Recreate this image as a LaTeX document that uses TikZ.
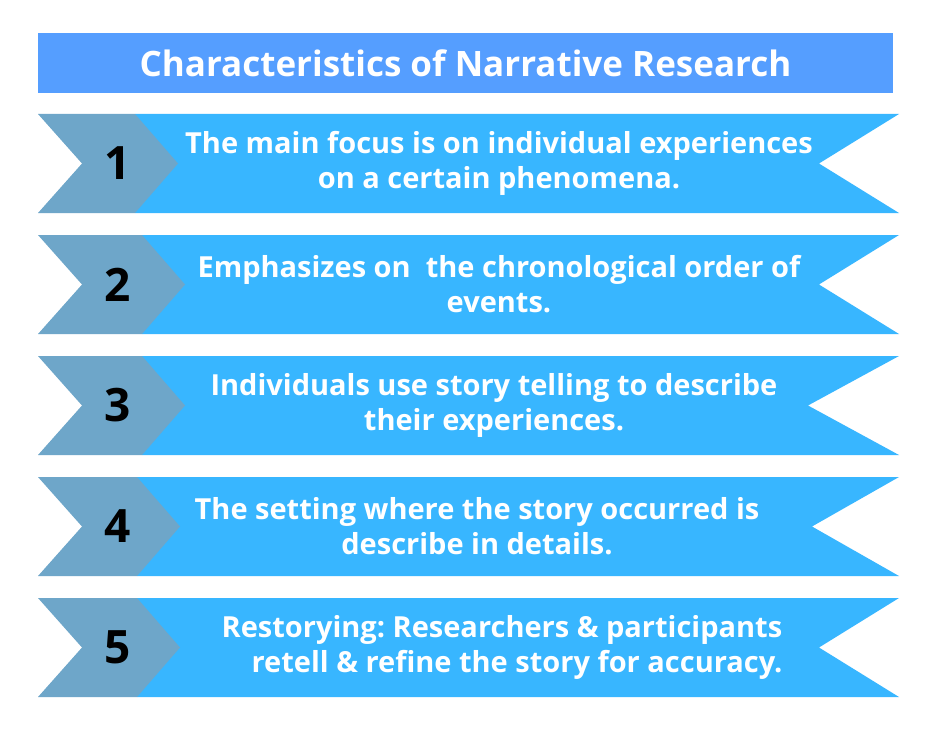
\documentclass[tikz,border=0pt]{standalone}
\usepackage{fontspec}
\setmainfont{Open Sans}
\frenchspacing
\definecolor{titlebg}{HTML}{559EFF}
\definecolor{ribbon}{HTML}{38B6FF}
\definecolor{chev}{HTML}{6EA6C9}
\begin{document}
\begin{tikzpicture}[x=1pt,y=-1pt,
  txt/.style={text=white,font=\bfseries\fontsize{29}{35}\selectfont,align=center},
  num/.style={text=black,font=\bfseries\fontsize{46}{46}\selectfont}]
\useasboundingbox (0,0) rectangle (929,733);
\fill[white] (0,0) rectangle (929,733);
\node[fill=titlebg,minimum width=855pt,minimum height=60pt,inner sep=0pt,
  text=white,font=\bfseries\fontsize{35}{40}\selectfont] (title) at (465.5,63) {Characteristics of Narrative Research};
\foreach \i/\t/\tip/\notch/\tx/\txt in {
 1/114/178/819/499/{The main focus is on individual experiences\\on a certain phenomena.},
 2/235/185/819/499/{Emphasizes on\ \ the chronological order of\\events.},
 3/356/185/808/494/{Individuals use story telling to describe\\their experiences.},
 4/477/180/812/477/{The setting where the story occurred is\\describe in details.},
 5/598/180/819/502/{Restorying: Researchers \& participants\\\ \ \ \ retell \& refine the story for accuracy.}}{
  \pgfmathsetmacro{\b}{\t+99}
  \pgfmathsetmacro{\m}{\t+49.5}
  \pgfmathsetmacro{\sh}{\tip-43}
  \fill[ribbon] (\sh,\t) -- (899,\t) -- (\notch,\m) -- (899,\b) -- (\sh,\b) -- cycle;
  \fill[chev] (38,\t) -- (\sh,\t) -- (\tip,\m) -- (\sh,\b) -- (38,\b) -- (82,\m) -- cycle;
  \node[num] (n\i) at (118,\m) {\i};
  \node[txt] (t\i) at (\tx,\m) {\txt};
}
\end{tikzpicture}
\end{document}
